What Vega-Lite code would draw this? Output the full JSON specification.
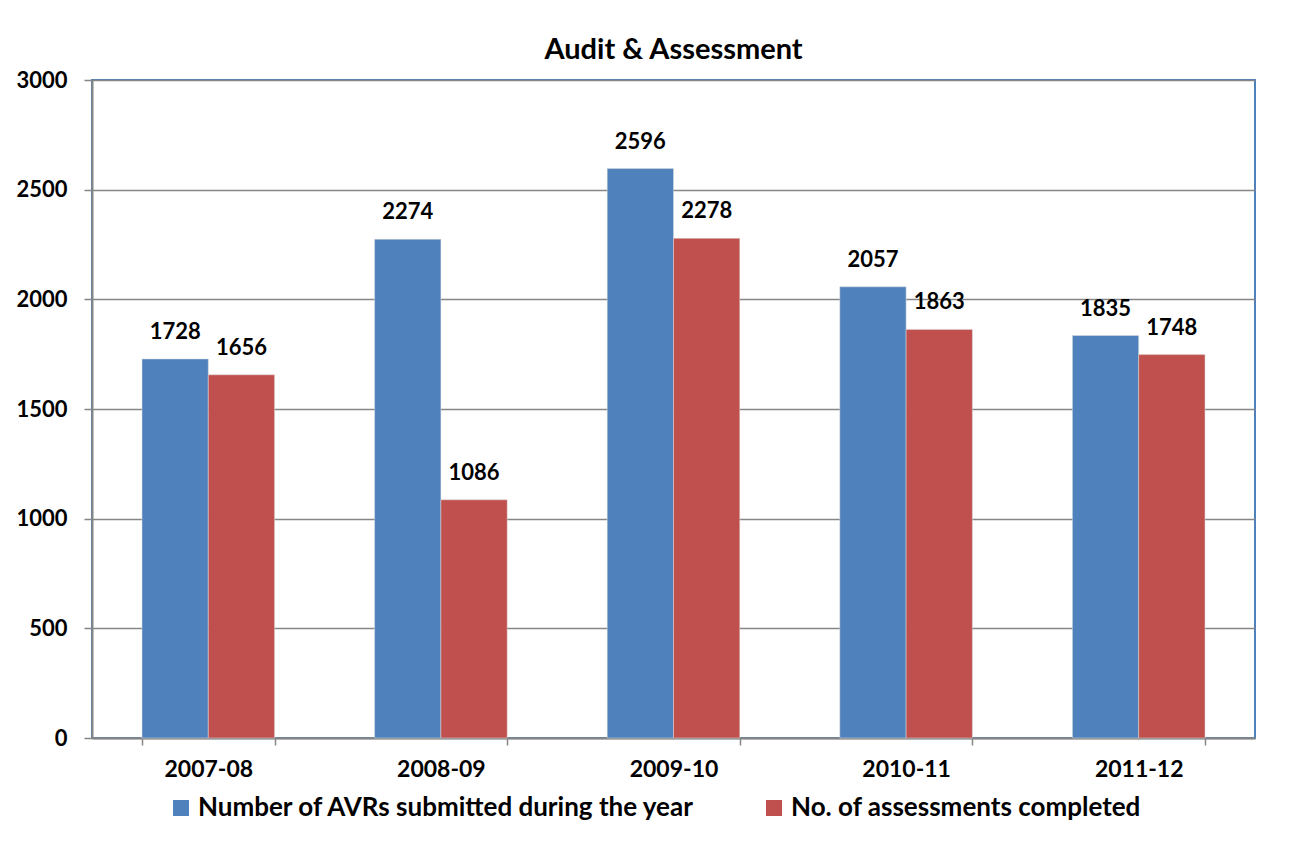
{
  "$schema": "https://vega.github.io/schema/vega-lite/v6.json",
  "width": 1163,
  "height": 658,
  "autosize": {"type": "none"},
  "padding": {"left": 92, "top": 80, "right": 40, "bottom": 104},
  "background": "white",
  "title": {
    "text": "Audit & Assessment",
    "font": "Lato",
    "fontSize": 29,
    "fontWeight": "bold",
    "color": "black",
    "anchor": "middle",
    "offset": 4
  },
  "data": {
    "values": [
      {"year": "2007-08", "series": "Number of AVRs submitted during the year", "value": 1728},
      {"year": "2007-08", "series": "No. of assessments completed", "value": 1656},
      {"year": "2008-09", "series": "Number of AVRs submitted during the year", "value": 2274},
      {"year": "2008-09", "series": "No. of assessments completed", "value": 1086},
      {"year": "2009-10", "series": "Number of AVRs submitted during the year", "value": 2596},
      {"year": "2009-10", "series": "No. of assessments completed", "value": 2278},
      {"year": "2010-11", "series": "Number of AVRs submitted during the year", "value": 2057},
      {"year": "2010-11", "series": "No. of assessments completed", "value": 1863},
      {"year": "2011-12", "series": "Number of AVRs submitted during the year", "value": 1835},
      {"year": "2011-12", "series": "No. of assessments completed", "value": 1748}
    ]
  },
  "encoding": {
    "x": {
      "field": "year",
      "type": "nominal",
      "sort": null,
      "scale": {"paddingInner": 0.43, "paddingOuter": 0.215},
      "axis": {
        "title": null,
        "labelAngle": 0,
        "labelFont": "Lato",
        "labelFontSize": 23,
        "labelFontWeight": "bold",
        "labelColor": "black",
        "labelPadding": 13,
        "tickBand": "extent",
        "tickSize": 7,
        "tickColor": "#868686",
        "tickWidth": 1.5,
        "domainColor": "#868686",
        "domainWidth": 2,
        "grid": false
      }
    },
    "xOffset": {
      "field": "series",
      "type": "nominal",
      "sort": ["Number of AVRs submitted during the year", "No. of assessments completed"],
      "scale": {"paddingInner": 0, "paddingOuter": 0}
    },
    "y": {
      "field": "value",
      "type": "quantitative",
      "scale": {"domain": [0, 3000], "nice": false},
      "axis": {
        "title": null,
        "values": [0, 500, 1000, 1500, 2000, 2500, 3000],
        "format": "d",
        "labelFont": "Lato",
        "labelFontSize": 22,
        "labelFontWeight": "bold",
        "labelColor": "black",
        "labelPadding": 17,
        "tickSize": 8,
        "tickColor": "#868686",
        "tickWidth": 1.5,
        "domainColor": "#868686",
        "domainWidth": 2,
        "grid": true,
        "gridColor": "#868686",
        "gridWidth": 1.5
      }
    }
  },
  "layer": [
    {
      "mark": {"type": "bar", "stroke": "#dddddd", "strokeWidth": 0.5},
      "encoding": {
        "color": {
          "field": "series",
          "type": "nominal",
          "sort": ["Number of AVRs submitted during the year", "No. of assessments completed"],
          "scale": {"range": ["#4F81BD", "#C0504D"]},
          "legend": {
            "title": null,
            "orient": "none",
            "legendX": 76,
            "legendY": 715,
            "direction": "horizontal",
            "columns": 2,
            "columnPadding": 65,
            "symbolType": "square",
            "symbolSize": 256,
            "symbolStrokeWidth": 0,
            "labelFont": "Lato",
            "labelFontSize": 26,
            "labelFontWeight": "bold",
            "labelColor": "black",
            "labelLimit": 700,
            "labelOffset": 4
          }
        }
      }
    },
    {
      "mark": {
        "type": "text",
        "dy": -20,
        "baseline": "alphabetic",
        "font": "Lato",
        "fontSize": 22,
        "fontWeight": "bold",
        "color": "black"
      },
      "encoding": {
        "text": {"field": "value", "type": "quantitative"}
      }
    }
  ],
  "config": {
    "view": {"stroke": "#4F81BD", "strokeWidth": 2}
  }
}
